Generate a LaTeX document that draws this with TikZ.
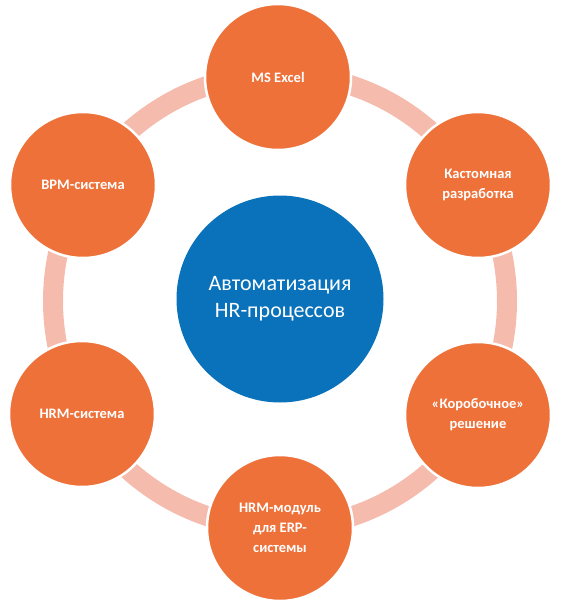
\documentclass[tikz,border=0pt]{standalone}
\usepackage{fontspec}
\setmainfont{Carlito}
\definecolor{ringc}{HTML}{F5BCAE}
\definecolor{orangec}{HTML}{ED7139}
\definecolor{bluec}{HTML}{0A72BA}
\begin{document}
\begin{tikzpicture}[x=1pt,y=-1pt,
  outer/.style={circle,fill=orangec,draw=white,line width=2.5pt,minimum size=146pt,inner sep=0pt,
    text=white,font=\bfseries\fontsize{14.5}{20}\selectfont,align=center},
  hub/.style={circle,fill=bluec,minimum size=207pt,inner sep=0pt,text=white,
    font=\fontsize{22}{27}\selectfont,align=center}]
\useasboundingbox (0,0) rectangle (565,608);
\coordinate (c) at (280,301);
\draw[ringc,line width=20pt] (c) circle[radius=227];
\node[hub] (hub) at (280,299) {Автоматизация\\HR-процессов};
\node[outer] (excel) at (278,77) {MS Excel};
\node[outer] (custom) at (478,185) {Кастомная\\разработка};
\node[outer] (box) at (478,415) {«Коробочное»\\решение};
\node[outer] (erp) at (280,528) {HRM-модуль\\для ERP-\\системы};
\node[outer] (hrm) at (82,414) {HRM-система};
\node[outer] (bpm) at (83,185) {BPM-система};
\end{tikzpicture}
\end{document}
